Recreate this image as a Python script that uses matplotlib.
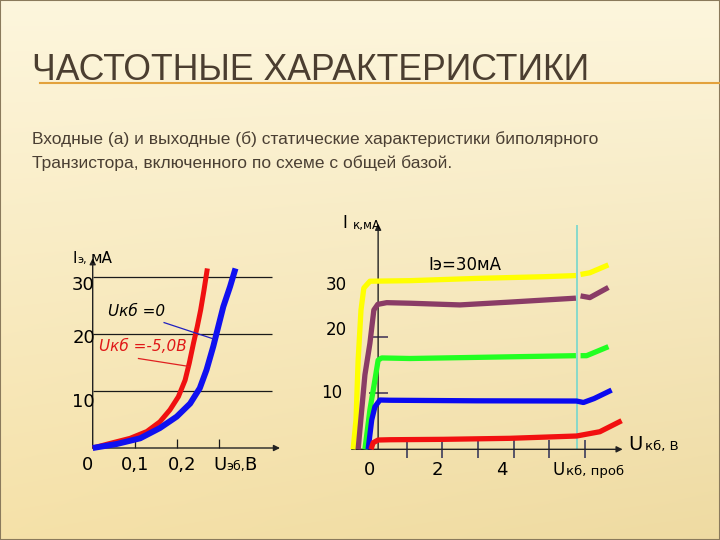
import matplotlib
matplotlib.use('Agg')
import matplotlib.pyplot as plt
import numpy as np
from matplotlib.patches import Rectangle

nan = np.nan

# (а) входные характеристики: Uэб, В -> Iэ, мА
u_red_a = [0, 0.041, 0.089, 0.129, 0.160, 0.184, 0.204, 0.220, 0.230, 0.240, 0.249, 0.257, 0.265, 0.273]
i_red_a = [0, 0.8, 1.7, 2.9, 4.6, 6.7, 9.0, 11.9, 14.9, 18.4, 21.3, 24.2, 27.7, 31.5]
u_blue_a = [0, 0.057, 0.113, 0.160, 0.200, 0.232, 0.255, 0.271, 0.287, 0.299, 0.311, 0.327, 0.340]
i_blue_a = [0, 0.7, 1.7, 3.5, 5.5, 7.8, 10.5, 13.7, 17.8, 21.3, 24.8, 28.3, 31.5]
grid_a = [10, 20, 30]
xticks_a = [0.1, 0.2, 0.3]

# (б) выходные характеристики: Uкб, В -> Iк, мА
u_yel = [-0.50, -0.42, -0.36, -0.28, -0.20, -0.03, 1.09, 2.96, 4.83, 5.74, nan, 5.87, 6.13, 6.65]
i_yel = [0, 5.2, 15.8, 24.7, 28.6, 29.8, 29.9, 30.3, 30.6, 30.8, nan, 31.0, 31.3, 32.7]
u_pur = [-0.36, -0.17, -0.03, 0.08, 0.19, 0.44, 1.09, 2.49, 3.89, 5.74, nan, 5.87, 6.13, 6.65]
i_pur = [0, 13.2, 18.8, 24.7, 25.7, 26.0, 25.9, 25.6, 26.1, 26.8, nan, 27.2, 26.9, 28.7]
u_grn = [-0.17, -0.03, 0.11, 0.20, 0.30, 1.09, 2.96, 5.74, nan, 5.87, 6.04, 6.65]
i_grn = [0, 7.0, 12.3, 15.8, 16.2, 16.1, 16.3, 16.6, nan, 16.6, 16.6, 18.2]
u_blu = [-0.08, 0.02, 0.11, 0.25, 0.53, 2.96, 5.76, 5.95, 6.25, 6.74]
i_blu = [0, 5.2, 7.55, 8.74, 8.7, 8.6, 8.56, 8.3, 9.0, 10.5]
u_red = [0, 0.06, 0.20, 0.53, 2.03, 3.89, 5.76, 6.41, 7.02]
i_red = [0, 1.17, 1.65, 1.7, 1.77, 1.95, 2.36, 3.12, 5.07]
u_prob = 5.77
xticks_b = [1, 2, 3, 4, 5, 6]
yticks_b = [10, 20, 30]

W, H = 720, 540
fig = plt.figure(figsize=(7.2, 5.4), dpi=100)

# фон слайда
t = np.linspace(0, 1, H)[:, None]
s = np.linspace(0, 1, W)[None, :]
top = np.array([253, 246, 221]) / 255
bot = np.array([245, 225, 168]) / 255
grad = top * (1 - t[..., None]) + bot * t[..., None]
grad = grad - 0.025 * (s[..., None] * t[..., None])
grad = np.clip(grad, 0, 1)
bg = fig.add_axes([0, 0, 1, 1])
bg.imshow(grad, aspect='auto', extent=[0, 1, 0, 1])
bg.axis('off')
fig.add_artist(Rectangle((0, 0), 1, 1, transform=fig.transFigure, fill=False,
                         edgecolor='#8a7a5c', lw=1.5))


def px_axes(l, t, r, b):
    a = fig.add_axes([l / W, 1 - b / H, (r - l) / W, (b - t) / H])
    a.axis('off')
    return a


def ptext(x, y, s, **kw):
    kw.setdefault('va', 'baseline')
    fig.text(x / W, 1 - y / H, s, **kw)


title_font = ['Liberation Sans', 'DejaVu Sans']
ptext(31.7, 79.5, 'ЧАСТОТНЫЕ ХАРАКТЕРИСТИКИ', fontsize=25.7, color='#4b3e30',
      family=title_font)
fig.add_artist(plt.Line2D([40 / W, 1], [1 - 82.5 / H] * 2, color='#e3a23c', lw=1.5))
ptext(31.7, 144, 'Входные (а) и выходные (б) статические характеристики биполярного',
      fontsize=12.5, color='#4a3f33', family=title_font)
ptext(31.7, 168, 'Транзистора, включенного по схеме с общей базой.',
      fontsize=12.5, color='#4a3f33', family=title_font)

arrow = dict(arrowstyle='-|>', color='#222222', lw=1, mutation_scale=9, shrinkA=0, shrinkB=0)

# ---- (а)
axL = px_axes(71.7, 254.2, 285.9, 453.7)
axL.set_xlim(-0.05, 0.46)
axL.set_ylim(-1, 34)
axL.annotate('', xy=(0.446, 0), xytext=(0, 0), arrowprops=arrow, annotation_clip=False)
axL.annotate('', xy=(0, 33.3), xytext=(0, 0), arrowprops=arrow, annotation_clip=False)
axL.hlines(grid_a, 0, 0.428, colors='#1a1a1a', lw=0.9)
axL.vlines(xticks_a, 0, 1.6, colors='#1a1a1a', lw=0.9)
axL.plot(u_red_a, i_red_a, color='#f01010', lw=3.6, solid_capstyle='butt', zorder=3)
axL.plot(u_blue_a, i_blue_a, color='#1010f0', lw=4.3, solid_capstyle='butt', zorder=4)
axL.plot([0.170, 0.289], [22.0, 19.1], color='#2020c0', lw=0.9, zorder=5)
axL.plot([0.109, 0.230], [15.7, 14.3], color='#e02020', lw=0.9, zorder=5)

ptext(71.7, 290, '30', fontsize=13)
ptext(72.7, 343, '20', fontsize=13)
ptext(71.7, 407, '10', fontsize=13)
ptext(87.5, 470, '0', fontsize=13, ha='center')
ptext(121, 470, '0,1', fontsize=13)
ptext(168.3, 470, '0,2', fontsize=13)
ptext(213, 470, 'U', fontsize=13)
ptext(226, 470, 'эб,', fontsize=9)
ptext(244, 470, 'В', fontsize=13)
ptext(73, 262.7, 'I', fontsize=11)
ptext(77.5, 262.7, 'э,', fontsize=8)
ptext(90.7, 262.7, 'мА', fontsize=11)
ptext(108.3, 311.7, 'Uкб =0', fontsize=11, style='italic', va='center')
ptext(99.3, 346.7, 'Uкб =-5,0В', fontsize=11, style='italic', va='center', color='#e01818')

# ---- (б)
axR = px_axes(345, 222, 630, 460.6)
axR.set_xlim(-0.728, 7.255)
axR.set_ylim(-2, 40.3)
axR.annotate('', xy=(7.05, 0), xytext=(-0.54, 0), arrowprops=arrow, annotation_clip=False)
axR.annotate('', xy=(0.2, 40), xytext=(0.2, 0), arrowprops=arrow, annotation_clip=False)
axR.vlines(xticks_b, -1.6, 1.6, colors='#3c3c5c', lw=1.2)
axR.hlines(yticks_b, -0.05, 0.47, colors='#4a3c5c', lw=1.2)
axR.vlines(u_prob, 0, 39.8, colors='#7fd8cc', lw=1.3, zorder=2)
for u, i, c in [(u_yel, i_yel, '#ffff00'), (u_pur, i_pur, '#8a3c66'),
                (u_grn, i_grn, '#22ff22'), (u_blu, i_blu, '#0a0af0'),
                (u_red, i_red, '#f21010')]:
    axR.plot(u, i, color=c, lw=3.8, solid_capstyle='butt', solid_joinstyle='round', zorder=3)

ptext(347, 290, '30', fontsize=12, ha='right')
ptext(347, 335.3, '20', fontsize=12, ha='right')
ptext(342, 398, '10', fontsize=12, ha='right')
ptext(370, 475, '0', fontsize=13, ha='center')
ptext(437, 475, '2', fontsize=13, ha='center')
ptext(502, 475, '4', fontsize=13, ha='center')
ptext(552, 475, 'U', fontsize=12)
ptext(566, 475, 'кб, проб', fontsize=9.5)
ptext(628, 450, 'U', fontsize=14)
ptext(645, 450, 'кб, В', fontsize=9.5)
ptext(342, 228.5, 'I', fontsize=12)
ptext(353, 228.5, 'к,мА', fontsize=8.5)
ptext(428, 270, 'Iэ=30мА', fontsize=12)

fig.savefig('out.png', dpi=100)
